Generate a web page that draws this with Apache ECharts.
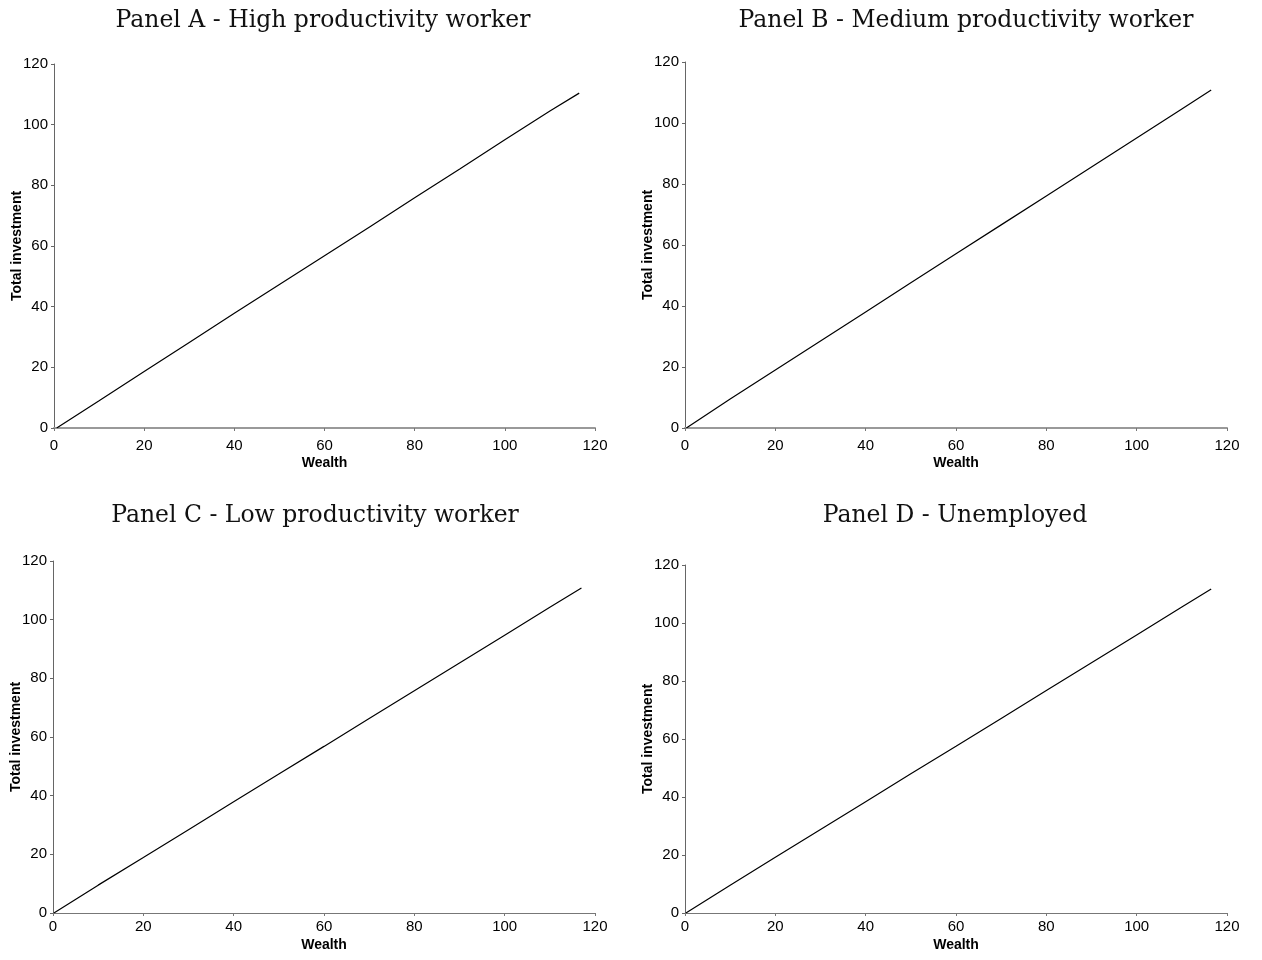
<!DOCTYPE html>
<html>
<head>
<meta charset="utf-8">
<script src="https://cdn.jsdelivr.net/npm/echarts@6/dist/echarts.min.js"></script>
<style>
  html, body { margin: 0; padding: 0; background: #fff; }
  #main { width: 1262px; height: 960px; }
</style>
</head>
<body>
<div id="main"></div>
<script>
// wealth points (x)
var wealthA = [0.6, 10, 20, 30, 40, 50, 60, 70, 80, 90, 100, 110, 116.5];
var wealthB = [0.3, 10, 20, 30, 40, 50, 60, 70, 80, 90, 100, 110, 116.5];
var wealthC = [0.2, 10, 20, 30, 40, 50, 60, 70, 80, 90, 100, 110, 117];
var wealthD = [0.2, 10, 20, 30, 40, 50, 60, 70, 80, 90, 100, 110, 116.5];

// total investment (y)
var investA = [0, 9.0, 18.6, 28.2, 37.8, 47.3, 56.8, 66.3, 75.9, 85.4, 95.0, 104.5, 110.4];
var investB = [0, 9.5, 19.0, 28.5, 38.0, 47.6, 57.1, 66.6, 76.1, 85.6, 95.1, 104.6, 110.8];
var investC = [0, 9.5, 18.9, 28.4, 37.9, 47.4, 56.8, 66.3, 75.8, 85.2, 94.7, 104.2, 110.8];
var investD = [0, 9.6, 19.2, 28.8, 38.4, 48.0, 57.5, 67.1, 76.7, 86.3, 95.9, 105.5, 111.7];

var titles = [
  'Panel A - High productivity worker',
  'Panel B - Medium productivity worker',
  'Panel C - Low productivity worker',
  'Panel D - Unemployed'
];

var pairs = [
  [wealthA, investA],
  [wealthB, investB],
  [wealthC, investC],
  [wealthD, investD]
];

var grids = [
  { left: 54, right: 667, top: 64, height: 364 },
  { left: 685, right: 35, top: 62, height: 366 },
  { left: 53, right: 667, top: 561, height: 352 },
  { left: 685, right: 35, top: 565, height: 348 }
];

var titlePos = [
  { left: 318, top: 4 },
  { left: 961, top: 4 },
  { left: 310, top: 499 },
  { left: 950, top: 499 }
];

var labelFont = 'Liberation Sans, Arial, sans-serif';

var chart = echarts.init(document.getElementById('main'));

var option = {
  backgroundColor: '#fff',
  animation: false,
  title: titles.map(function (t, i) {
    return {
      text: t,
      left: titlePos[i].left,
      top: titlePos[i].top,
      textAlign: 'center',
      textStyle: {
        fontFamily: 'DejaVu Serif, serif',
        fontWeight: 'normal',
        fontSize: 23.5,
        color: '#111'
      }
    };
  }),
  grid: grids,
  xAxis: grids.map(function (g, i) {
    return {
      type: 'value',
      gridIndex: i,
      min: 0,
      max: 120,
      interval: 20,
      name: 'Wealth',
      nameLocation: 'middle',
      nameGap: i < 2 ? 28 : 25,
      nameMoveOverlap: false,
      nameTextStyle: { fontFamily: labelFont, fontWeight: 'bold', fontSize: 14, color: '#000' },
      axisLine: { show: true, lineStyle: { color: i < 2 ? '#999' : '#777', width: i < 2 ? 2 : 1 } },
      axisTick: { show: true, length: 3, lineStyle: { color: '#777' } },
      axisLabel: { fontFamily: labelFont, fontSize: 15, color: '#000', margin: i < 2 ? 10 : 6 },
      splitLine: { show: false }
    };
  }),
  yAxis: grids.map(function (g, i) {
    return {
      type: 'value',
      gridIndex: i,
      min: 0,
      max: 120,
      interval: 20,
      name: 'Total investment',
      nameLocation: 'middle',
      nameGap: 30,
      nameMoveOverlap: false,
      nameTextStyle: { fontFamily: labelFont, fontWeight: 'bold', fontSize: 14, color: '#000' },
      axisLine: { show: true, lineStyle: { color: '#666', width: 1 } },
      axisTick: { show: true, length: 3, lineStyle: { color: '#666' } },
      axisLabel: { fontFamily: labelFont, fontSize: 15, color: '#000', margin: 6 },
      splitLine: { show: false }
    };
  }),
  series: pairs.map(function (p, i) {
    return {
      type: 'line',
      xAxisIndex: i,
      yAxisIndex: i,
      data: p[0].map(function (w, k) { return [w, p[1][k]]; }),
      symbol: 'none',
      lineStyle: { color: '#000', width: 1.2 }
    };
  })
};

chart.setOption(option);
</script>
</body>
</html>
